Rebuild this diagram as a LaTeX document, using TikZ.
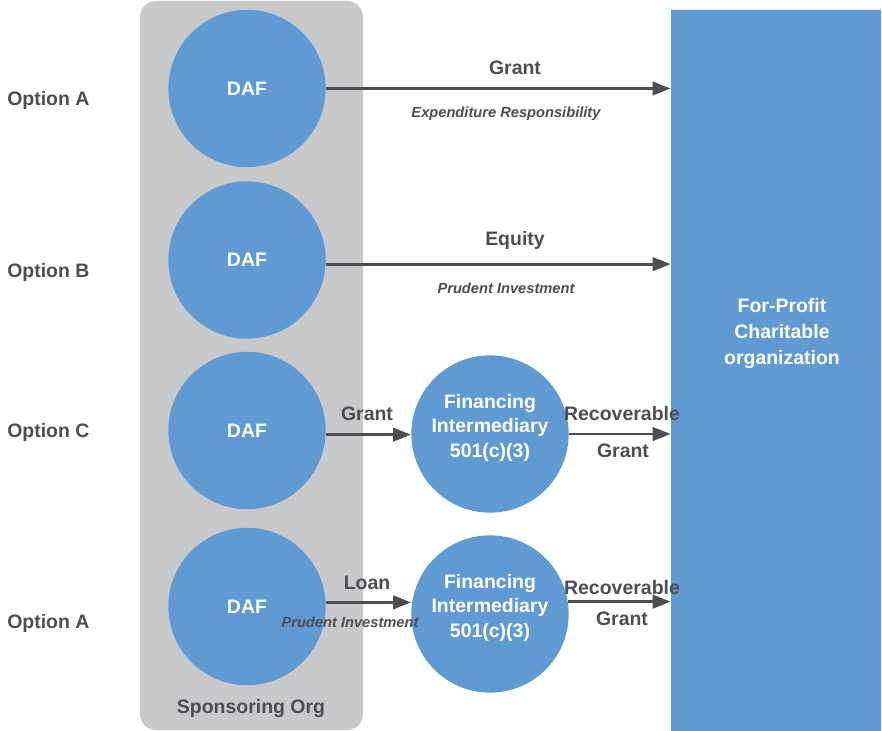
\documentclass[tikz,border=0pt]{standalone}
\usepackage{fontspec}
\setmainfont{Liberation Sans}
\usetikzlibrary{arrows.meta}
\definecolor{dafblue}{RGB}{95,155,210}
\definecolor{orggray}{RGB}{200,201,203}
\definecolor{inkgray}{RGB}{77,77,82}

\begin{document}
\begin{tikzpicture}[x=0.75pt, y=-0.75pt,
		fund/.style={circle, fill=dafblue, minimum size=118pt, inner sep=0pt, text=white, align=center, font=\bfseries\fontsize{14.6}{18.4}\selectfont},
		lbl/.style={anchor=base, text=inkgray, font=\bfseries\fontsize{14.6}{18}\selectfont},
		note/.style={anchor=base, text=inkgray, font=\bfseries\itshape\fontsize{11}{13}\selectfont},
		flow/.style={draw=inkgray, line width=2.2pt, -{Triangle[length=13.5pt,width=10pt]}}]
		%%%%% START %%%%%
		
		\useasboundingbox (0, 0) rectangle (882, 731);
		
		\fill[orggray, rounded corners=12pt] (140, 1) rectangle (363, 730);
		\node[lbl] (sponsor) at (251, 713) {Sponsoring Org};
		
		\node[fill=dafblue, minimum width=157.5pt, minimum height=540.75pt, inner sep=0pt] (forprofit) at (776, 370.5) {};
		\node[text=white, align=center, font=\bfseries\fontsize{14.6}{19.5}\selectfont] (fptext) at (782, 334) {For-Profit\\Charitable\\organization};
		
		\node[lbl, anchor=base west, inner xsep=0pt] (optA) at (7, 106) {Option A};
		\node[lbl, anchor=base west, inner xsep=0pt] (optB) at (7, 277) {Option B};
		\node[lbl, anchor=base west, inner xsep=0pt] (optC) at (7, 437) {Option C};
		\node[lbl, anchor=base west, inner xsep=0pt] (optD) at (7, 628) {Option A};
		
		\node[fund] (daf1) at (247, 88.5) {DAF};
		\node[fund] (daf2) at (247, 260) {DAF};
		\node[fund] (daf3) at (247, 430.5) {DAF};
		\node[fund] (daf4) at (247, 606.5) {DAF};
		
		\node[fund, font=\bfseries\fontsize{14.6}{18.2}\selectfont] (fin1) at (490, 434) {Financing\\Intermediary\\501(c)(3)\\[-6pt]\mbox{}};
		\node[fund, font=\bfseries\fontsize{14.6}{18.2}\selectfont] (fin2) at (490, 614) {Financing\\Intermediary\\501(c)(3)\\[-6pt]\mbox{}};
		
		% option A
		\draw[flow] (daf1.east) -- (daf1.east -| forprofit.west);
		\node[lbl] (grantA) at (515, 75) {Grant};
		\node[note] (expresp) at (506, 118) {Expenditure Responsibility};
		
		% option B
		\draw[flow] (daf2.-3) -- (daf2.-3 -| forprofit.west);
		\node[lbl] (equity) at (515, 246) {Equity};
		\node[note] (prudentB) at (506, 293) {Prudent Investment};
		
		% option C
		\draw[flow] (daf3.-3) -- (daf3.-3 -| fin1.west);
		\draw[flow] (fin1.east) -- (fin1.east -| forprofit.west);
		\node[lbl] (grantC) at (367, 420) {Grant};
		\node[lbl] (recovC) at (622, 420) {Recoverable};
		\node[lbl] (rgrantC) at (623, 457) {Grant};
		
		% option A, loan
		\draw[flow] (daf4.3) -- (daf4.3 -| fin2.west);
		\draw[flow] (fin2.9) -- (fin2.9 -| forprofit.west);
		\node[lbl] (loan) at (367, 589) {Loan};
		\node[note] (prudentD) at (350, 627) {Prudent Investment};
		\node[lbl] (recovD) at (622, 594) {Recoverable};
		\node[lbl] (rgrantD) at (622, 625) {Grant};
		
		%%%%% END %%%%%
	\end{tikzpicture}
\end{document}
